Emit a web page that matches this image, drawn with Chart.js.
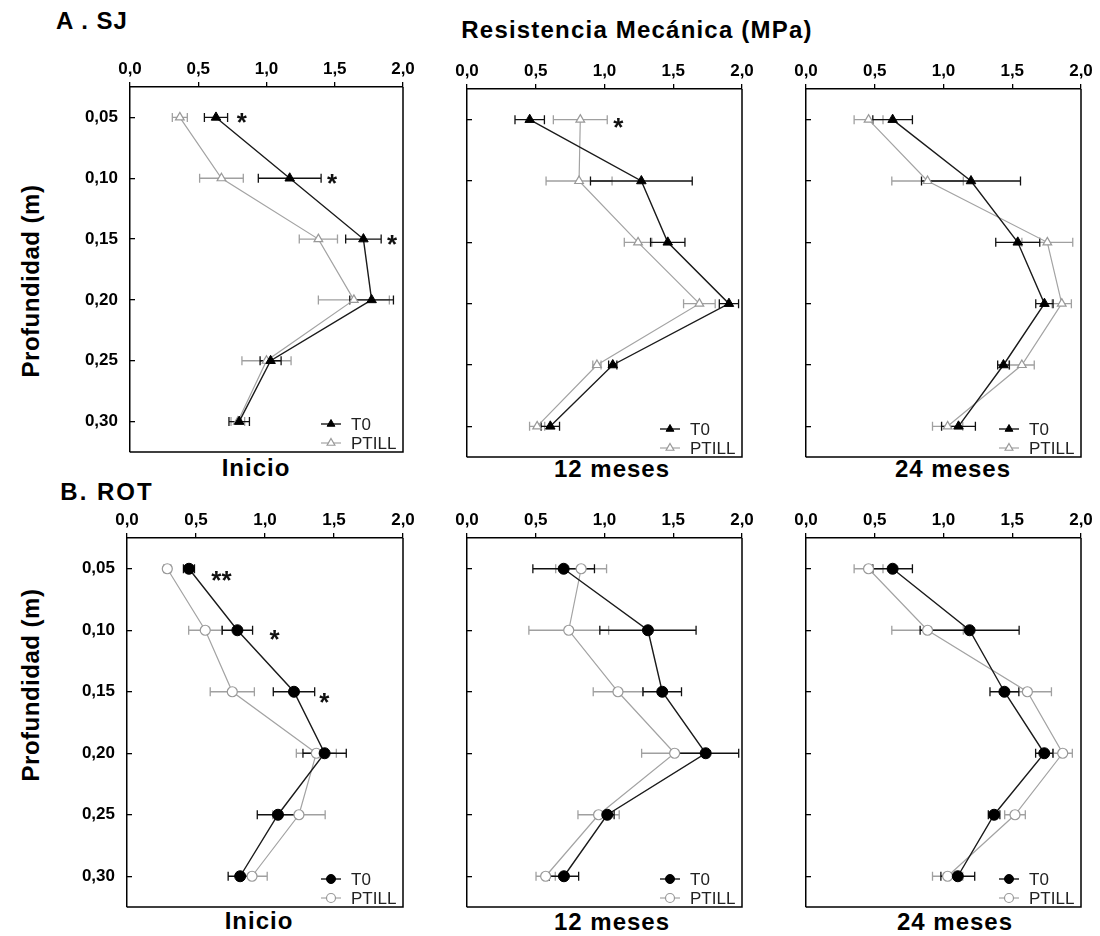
<!DOCTYPE html>
<html>
<head>
<meta charset="utf-8">
<script src="https://cdn.jsdelivr.net/npm/chart.js@4.4.0/dist/chart.umd.min.js"></script>
<style>
  body { margin: 0; background: #fff; }
  #page { position: relative; width: 1100px; height: 936px; font-family: 'Liberation Sans', Arial, sans-serif; color: #000; }
  .lbl { position: absolute; font-weight: bold; font-size: 24px; line-height: 1; white-space: nowrap; letter-spacing: 1px; transform: translate(-50%, -50%); }
  .vlbl { transform: translate(-50%, -50%) rotate(-90deg); letter-spacing: 0.5px; }
  canvas { position: absolute; }
</style>
</head>
<body>
<div id="page">
  <div class="lbl" style="left:92px;top:21px">A . SJ</div>
  <div class="lbl" style="left:637px;top:30px;letter-spacing:1.2px">Resistencia Mecánica (MPa)</div>
  <div class="lbl" style="left:107px;top:492px;letter-spacing:2px">B. ROT</div>
  <div class="lbl vlbl" style="left:31px;top:281px">Profundidad (m)</div>
  <div class="lbl vlbl" style="left:31px;top:685px">Profundidad (m)</div>
  <div class="lbl" style="left:256px;top:468px">Inicio</div>
  <div class="lbl" style="left:612px;top:469px">12 meses</div>
  <div class="lbl" style="left:953px;top:469px">24 meses</div>
  <div class="lbl" style="left:259px;top:921px">Inicio</div>
  <div class="lbl" style="left:612px;top:922px">12 meses</div>
  <div class="lbl" style="left:955px;top:922px">24 meses</div>
</div>
<script>
// depth (m) and resistance (MPa) ticks
const depths = [0.05, 0.10, 0.15, 0.20, 0.25, 0.30];
const resistTicks = [0, 0.5, 1, 1.5, 2];

// A. SJ
const sjInicioT0 = [0.63, 1.17, 1.71, 1.77, 1.03, 0.80];
const sjInicioT0Err = [0.085, 0.23, 0.13, 0.16, 0.077, 0.075];
const sjInicioPtill = [0.365, 0.67, 1.38, 1.64, 1.00, 0.79];
const sjInicioPtillErr = [0.055, 0.16, 0.14, 0.26, 0.18, 0.05];

const sj12T0 = [0.456, 1.268, 1.46, 1.905, 1.06, 0.606];
const sj12T0Err = [0.107, 0.37, 0.125, 0.07, 0.03, 0.067];
const sj12Ptill = [0.824, 0.815, 1.244, 1.69, 0.945, 0.51];
const sj12PtillErr = [0.196, 0.24, 0.1, 0.115, 0.03, 0.055];

const sj24T0 = [0.63, 1.20, 1.54, 1.734, 1.436, 1.109];
const sj24T0Err = [0.144, 0.36, 0.16, 0.063, 0.042, 0.123];
const sj24Ptill = [0.455, 0.884, 1.755, 1.86, 1.57, 1.03];
const sj24PtillErr = [0.105, 0.26, 0.185, 0.07, 0.09, 0.11];

// B. ROT
const rotInicioT0 = [0.449, 0.80, 1.21, 1.432, 1.094, 0.82];
const rotInicioT0Err = [0.04, 0.11, 0.15, 0.157, 0.15, 0.087];
const rotInicioPtill = [0.292, 0.567, 0.763, 1.372, 1.246, 0.906];
const rotInicioPtillErr = [0.025, 0.12, 0.16, 0.145, 0.19, 0.11];

const rot12T0 = [0.703, 1.316, 1.42, 1.736, 1.02, 0.705];
const rot12T0Err = [0.224, 0.35, 0.14, 0.24, 0.05, 0.107];
const rot12Ptill = [0.83, 0.74, 1.098, 1.51, 0.957, 0.572];
const rot12PtillErr = [0.185, 0.29, 0.18, 0.24, 0.15, 0.07];

const rot24T0 = [0.63, 1.19, 1.443, 1.733, 1.368, 1.104];
const rot24T0Err = [0.144, 0.36, 0.105, 0.063, 0.042, 0.123];
const rot24Ptill = [0.455, 0.884, 1.61, 1.867, 1.52, 1.03];
const rot24PtillErr = [0.105, 0.26, 0.175, 0.07, 0.075, 0.11];

// significance marks (value, depth)
const sjInicioStars = [{x: 0.82, y: 0.05, text: '*'}, {x: 1.48, y: 0.10, text: '*'}, {x: 1.92, y: 0.15, text: '*'}];
const sj12Stars = [{x: 1.10, y: 0.052, text: '*'}];
const rotInicioStars = [{x: 0.684, y: 0.055, text: '**'}, {x: 1.07, y: 0.103, text: '*'}, {x: 1.43, y: 0.154, text: '*'}];

const FONT = "'Liberation Sans', Arial, sans-serif";
const page = document.getElementById('page');

const panels = [
  {t0: sjInicioT0, t0Err: sjInicioT0Err, pt: sjInicioPtill, ptErr: sjInicioPtillErr, stars: sjInicioStars, marker: 'triangle', showDepth: true, area: {l: 130, t: 87, r: 403, b: 452}},
  {t0: sj12T0, t0Err: sj12T0Err, pt: sj12Ptill, ptErr: sj12PtillErr, stars: sj12Stars, marker: 'triangle', showDepth: false, area: {l: 467, t: 89, r: 742, b: 457}},
  {t0: sj24T0, t0Err: sj24T0Err, pt: sj24Ptill, ptErr: sj24PtillErr, stars: [], marker: 'triangle', showDepth: false, area: {l: 806, t: 89, r: 1081, b: 457}},
  {t0: rotInicioT0, t0Err: rotInicioT0Err, pt: rotInicioPtill, ptErr: rotInicioPtillErr, stars: rotInicioStars, marker: 'circle', showDepth: true, area: {l: 127, t: 538, r: 403, b: 907}},
  {t0: rot12T0, t0Err: rot12T0Err, pt: rot12Ptill, ptErr: rot12PtillErr, stars: [], marker: 'circle', showDepth: false, area: {l: 467, t: 538, r: 742, b: 907}},
  {t0: rot24T0, t0Err: rot24T0Err, pt: rot24Ptill, ptErr: rot24PtillErr, stars: [], marker: 'circle', showDepth: false, area: {l: 806, t: 538, r: 1081, b: 907}}
];

// error bars, frame, asterisks and the small legend in the corner
function panelPlugin(stars) {
  return {
    id: 'panelExtras',
    beforeDatasetsDraw(chart) {
      const {ctx, scales: {x, y}} = chart;
      ctx.save();
      chart.data.datasets.slice().reverse().forEach(ds => {
        ctx.strokeStyle = ds.errColor;
        ctx.lineWidth = 1.3;
        ds.data.forEach((pt, i) => {
          const e = ds.errors[i];
          const x1 = x.getPixelForValue(pt.x - e);
          const x2 = x.getPixelForValue(pt.x + e);
          const py = y.getPixelForValue(pt.y);
          ctx.beginPath();
          ctx.moveTo(x1, py); ctx.lineTo(x2, py);
          ctx.moveTo(x1, py - 4.5); ctx.lineTo(x1, py + 4.5);
          ctx.moveTo(x2, py - 4.5); ctx.lineTo(x2, py + 4.5);
          ctx.stroke();
        });
      });
      ctx.restore();
    },
    afterDraw(chart) {
      const {ctx, chartArea: a, scales: {x, y}} = chart;
      ctx.save();
      // right + bottom frame
      ctx.strokeStyle = '#000';
      ctx.lineWidth = 1.5;
      ctx.beginPath();
      ctx.moveTo(a.right, a.top);
      ctx.lineTo(a.right, a.bottom);
      ctx.lineTo(a.left, a.bottom);
      ctx.stroke();

      ctx.fillStyle = '#111';
      ctx.font = 'bold 26px ' + FONT;
      ctx.textAlign = 'center';
      ctx.textBaseline = 'alphabetic';
      stars.forEach(s => {
        ctx.fillText(s.text, x.getPixelForValue(s.x), y.getPixelForValue(s.y) + 14);
      });

      chart.data.datasets.forEach((ds, i) => {
        const ry = a.bottom - 28 + i * 19;
        ctx.strokeStyle = ds.borderColor;
        ctx.lineWidth = ds.borderWidth;
        ctx.beginPath();
        ctx.moveTo(a.right - 82, ry);
        ctx.lineTo(a.right - 62, ry);
        ctx.stroke();
        ctx.fillStyle = ds.pointBackgroundColor;
        ctx.strokeStyle = ds.pointBorderColor;
        ctx.lineWidth = ds.pointBorderWidth;
        Chart.helpers.drawPoint(ctx, {pointStyle: ds.pointStyle, rotation: 0, radius: 4.5, borderWidth: ds.pointBorderWidth}, a.right - 72, ry);
        ctx.fillStyle = '#222';
        ctx.font = '17px ' + FONT;
        ctx.textAlign = 'left';
        ctx.textBaseline = 'middle';
        ctx.fillText(ds.label, a.right - 52, ry + 1);
      });
      ctx.restore();
    }
  };
}

function makeChart(p) {
  const padL = p.showDepth ? 125 : 45, padT = 45, padR = 25, padB = 40;
  const w = padL + (p.area.r - p.area.l) + padR;
  const h = padT + (p.area.b - p.area.t) + padB;
  const canvas = document.createElement('canvas');
  canvas.width = w;
  canvas.height = h;
  canvas.style.width = w + 'px';
  canvas.style.height = h + 'px';
  canvas.style.left = (p.area.l - padL) + 'px';
  canvas.style.top = (p.area.t - padT) + 'px';
  page.appendChild(canvas);

  const pts = vals => vals.map((v, i) => ({x: v, y: depths[i]}));

  new Chart(canvas, {
    type: 'scatter',
    data: {
      datasets: [
        {label: seriesNamesT0, data: pts(p.t0), errors: p.t0Err, errColor: '#111', showLine: true,
         borderColor: '#1a1a1a', borderWidth: 1.4, pointStyle: p.marker, pointRadius: 5.5,
         pointBackgroundColor: '#000', pointBorderColor: '#000', pointBorderWidth: 1},
        {label: seriesNamesPtill, data: pts(p.pt), errors: p.ptErr, errColor: '#a0a0a0', showLine: true,
         borderColor: '#a3a3a3', borderWidth: 1.2, pointStyle: p.marker, pointRadius: 5,
         pointBackgroundColor: '#fff', pointBorderColor: '#999', pointBorderWidth: 1.2}
      ]
    },
    options: {
      responsive: false,
      animation: false,
      events: [],
      layout: {padding: {left: 0, top: 0, right: padR, bottom: padB}},
      plugins: {legend: {display: false}, tooltip: {enabled: false}},
      scales: {
        x: {
          type: 'linear', position: 'top', min: 0, max: 2,
          afterBuildTicks: s => { s.ticks = resistTicks.map(v => ({value: v})); },
          afterFit: s => { s.height = padT; },
          ticks: {color: '#000', font: {family: FONT, size: 17, weight: 'bold'}, padding: 2, maxRotation: 0,
                  callback: v => v.toFixed(1).replace('.', ',')},
          grid: {drawOnChartArea: false, tickLength: 5, color: '#000', lineWidth: 1.3},
          border: {color: '#000', width: 1.5}
        },
        y: {
          type: 'linear', position: 'left', reverse: true, min: 0.025, max: 0.325,
          afterBuildTicks: s => { s.ticks = depths.map(v => ({value: v})); },
          afterFit: s => { s.width = padL; },
          ticks: {color: '#000', font: {family: FONT, size: 17, weight: 'bold'}, padding: 17,
                  callback: v => p.showDepth ? v.toFixed(2).replace('.', ',') : ''},
          grid: {drawOnChartArea: false, tickLength: -5, color: '#000', lineWidth: 1.3},
          border: {color: '#000', width: 1.5}
        }
      }
    },
    plugins: [panelPlugin(p.stars)]
  });
}

const seriesNamesT0 = 'T0';
const seriesNamesPtill = 'PTILL';
panels.forEach(makeChart);
</script>
</body>
</html>
